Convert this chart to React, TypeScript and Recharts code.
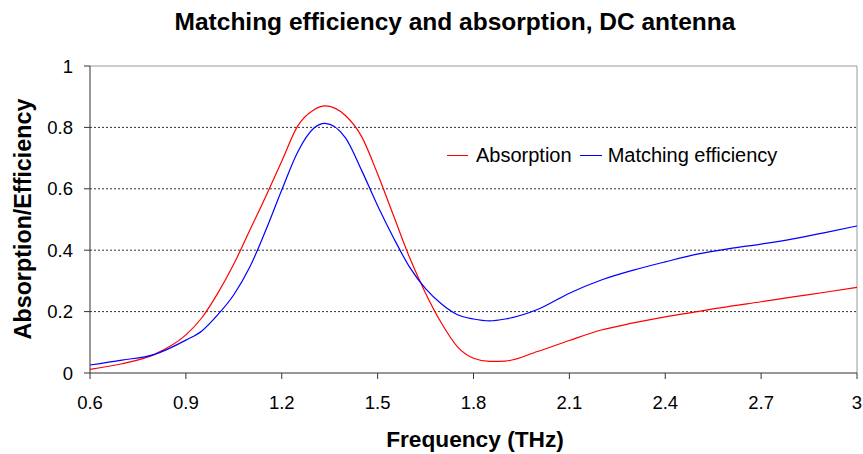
import React from "react";
import {
  LineChart,
  Line,
  XAxis,
  YAxis,
  ReferenceLine,
  Legend,
} from "recharts";

// Frequency samples (THz)
const freq = [
  0.6, 0.7, 0.8, 0.9, 0.95, 1.0, 1.05, 1.1, 1.15, 1.2, 1.25, 1.3, 1.335, 1.4,
  1.45, 1.5, 1.55, 1.6, 1.65, 1.7, 1.75, 1.8, 1.85, 1.9, 2.0, 2.1, 2.2, 2.3,
  2.4, 2.5, 2.6, 2.7, 2.8, 2.9, 3.0,
];

const absorption = [
  0.012, 0.03, 0.06, 0.124, 0.18, 0.26, 0.355, 0.465, 0.575, 0.69, 0.805,
  0.857, 0.87, 0.838, 0.77, 0.648, 0.512, 0.376, 0.26, 0.162, 0.085, 0.048,
  0.038, 0.039, 0.07, 0.106, 0.14, 0.163, 0.183, 0.2, 0.217, 0.232, 0.248,
  0.263, 0.279,
];

const efficiency = [
  0.026, 0.042, 0.06, 0.107, 0.137, 0.19, 0.255, 0.345, 0.465, 0.596, 0.72,
  0.797, 0.813, 0.765, 0.66, 0.545, 0.44, 0.345, 0.275, 0.225, 0.19, 0.176,
  0.17, 0.176, 0.207, 0.26, 0.303, 0.335, 0.362, 0.387, 0.405, 0.42, 0.437,
  0.457, 0.479,
];

const xTicks = [0.6, 0.9, 1.2, 1.5, 1.8, 2.1, 2.4, 2.7, 3.0];
const yTicks = [0, 0.2, 0.4, 0.6, 0.8, 1];
const gridLines = [0.2, 0.4, 0.6, 0.8];

const rows = freq.map((f, i) => ({
  f,
  absorption: absorption[i],
  efficiency: efficiency[i],
}));

const FONT = "'Liberation Sans', Arial, sans-serif";
const fmt = (v: number) => String(Math.round(v * 10) / 10);

const LegendContent = () => (
  <div
    style={{
      display: "flex",
      alignItems: "center",
      fontFamily: FONT,
      fontSize: 20,
      color: "#000",
      whiteSpace: "nowrap",
    }}
  >
    <span style={{ width: 21, height: 1, background: "#ff0000", marginRight: 8 }} />
    <span style={{ marginRight: 8 }}>Absorption</span>
    <span style={{ width: 22, height: 1, background: "#0000ff", marginRight: 6 }} />
    <span>Matching efficiency</span>
  </div>
);

export default function App() {
  return (
    <div style={{ position: "absolute", left: 0, top: 0, width: 863, height: 454, background: "#fff" }}>
      <LineChart
        width={863}
        height={454}
        data={rows}
        margin={{ top: 66, right: 6, left: 0, bottom: 0 }}
      >
        {gridLines.map((g) => (
          <ReferenceLine key={g} y={g} stroke="#333" strokeDasharray="2 2" />
        ))}
        <ReferenceLine y={1} stroke="#999" />
        <ReferenceLine x={3} stroke="#999" />
        <XAxis
          type="number"
          dataKey="f"
          domain={[0.6, 3]}
          ticks={xTicks}
          tickFormatter={fmt}
          height={81}
          tickSize={6}
          tickMargin={17}
          stroke="#333"
          tick={{ fill: "#000", fontSize: 18.5, fontFamily: FONT }}
        />
        <YAxis
          type="number"
          domain={[0, 1]}
          ticks={yTicks}
          tickFormatter={fmt}
          width={90}
          tickSize={6}
          tickMargin={11}
          stroke="#333"
          tick={{ fill: "#000", fontSize: 18.5, fontFamily: FONT }}
        />
        <Legend
          layout="horizontal"
          verticalAlign="middle"
          align="center"
          content={<LegendContent />}
          wrapperStyle={{ left: 447, top: 144, width: "auto" }}
        />
        <Line
          type="monotone"
          dataKey="absorption"
          name="Absorption"
          stroke="#ff0000"
          strokeWidth={1.2}
          dot={false}
          isAnimationActive={false}
        />
        <Line
          type="monotone"
          dataKey="efficiency"
          name="Matching efficiency"
          stroke="#0000ff"
          strokeWidth={1.2}
          dot={false}
          isAnimationActive={false}
        />
      </LineChart>
      <svg
        width={863}
        height={454}
        style={{ position: "absolute", left: 0, top: 0, pointerEvents: "none" }}
      >
        <text x={455} y={30} textAnchor="middle" fontFamily={FONT} fontWeight="bold" fontSize={24.5}>
          Matching efficiency and absorption, DC antenna
        </text>
        <text x={475} y={447} textAnchor="middle" fontFamily={FONT} fontWeight="bold" fontSize={22.7}>
          Frequency (THz)
        </text>
        <text
          x={31}
          y={219}
          textAnchor="middle"
          fontFamily={FONT}
          fontWeight="bold"
          fontSize={23.3}
          transform="rotate(-90 31 219)"
        >
          Absorption/Efficiency
        </text>
      </svg>
    </div>
  );
}
